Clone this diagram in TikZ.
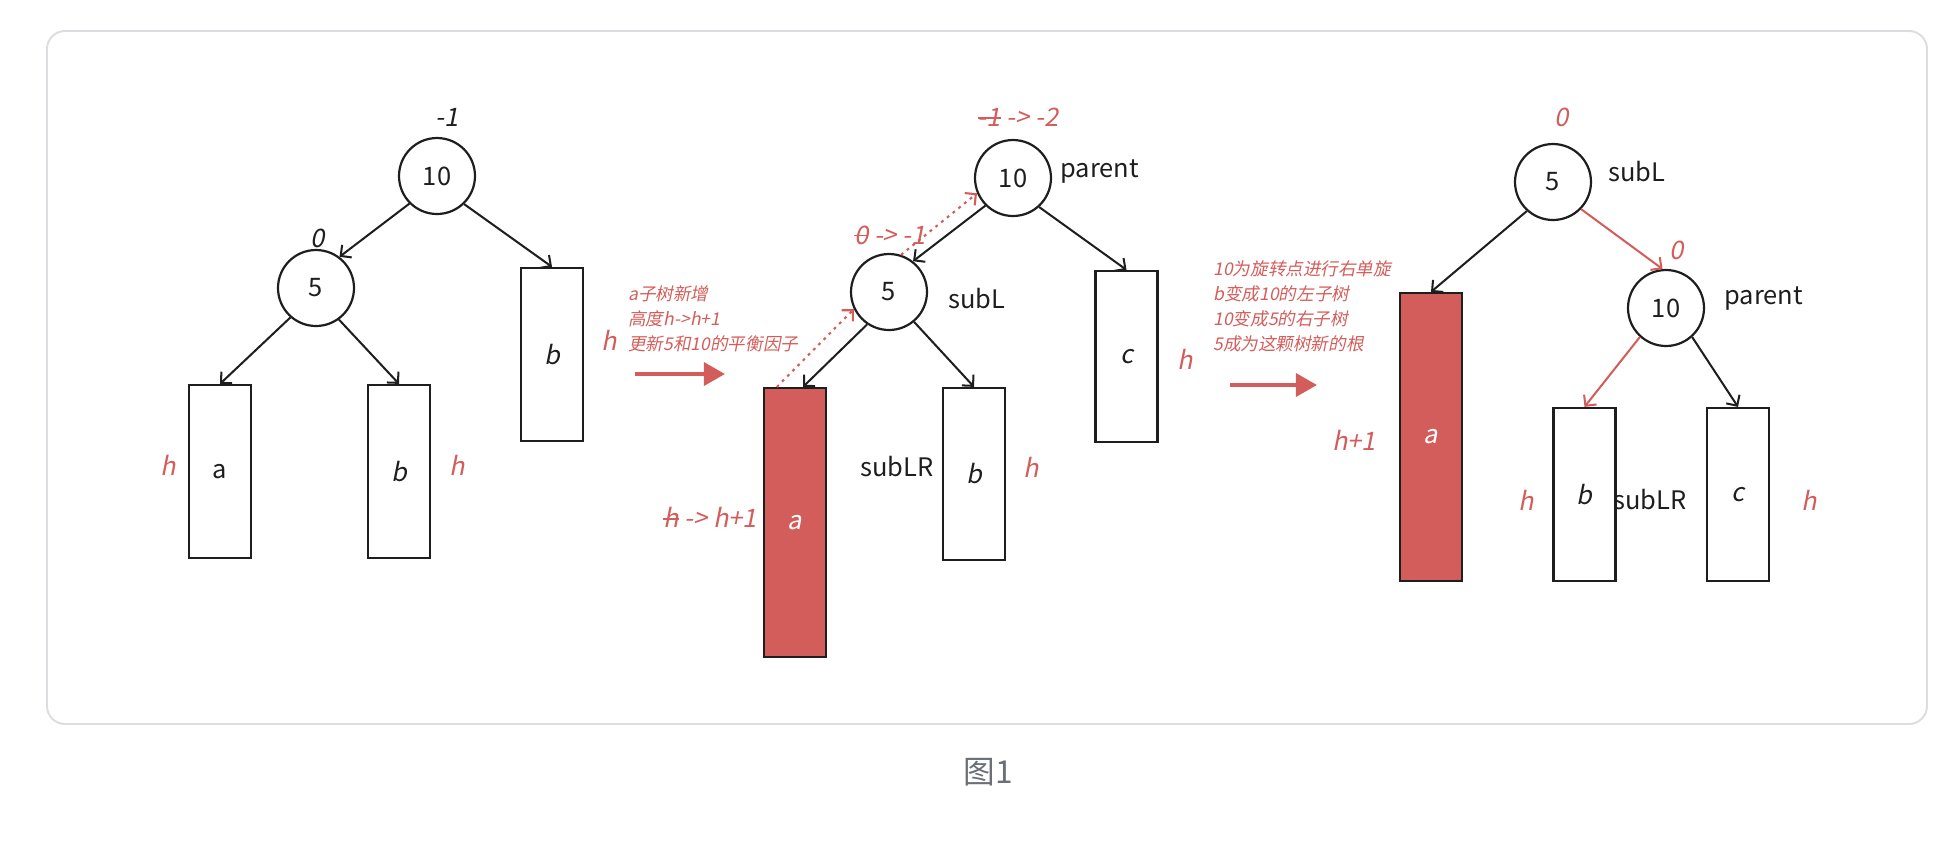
\documentclass[tikz,border=0pt]{standalone}
\usepackage{fontspec}
\setmainfont{Noto Sans CJK SC}
\newfontfamily\itf{Noto Sans CJK SC}[FakeSlant=0.2]
\newcommand\strk[1]{\sbox0{#1}\rlap{\raisebox{0.3em}{\rule{\wd0}{0.8pt}}}\usebox0}
\usetikzlibrary{arrows.meta,calc}
\definecolor{rd}{HTML}{D35D5A}
\definecolor{ink}{HTML}{1E1E1E}
\definecolor{framec}{HTML}{DCDCE1}
\definecolor{capc}{HTML}{6B6F78}
\begin{document}
\begin{tikzpicture}[x=0.02cm,y=-0.02cm,
  every node/.style={text=ink, font=\fontsize{14.5}{16}\selectfont},
  nd/.style={circle, draw=ink, line width=1.25pt, minimum size=1.52cm, inner sep=0pt},
  box/.style={rectangle, draw=ink, line width=1.3pt, minimum width=1.24cm, inner sep=0pt, font=\fontsize{14.5}{16}\selectfont\itf},
  redbox/.style={box, fill=rd, text=white},
  lbl/.style={font=\fontsize{14.5}{16}\selectfont\itf, inner sep=0pt},
  rlbl/.style={lbl, text=rd},
  tag/.style={inner sep=0pt, anchor=west},
  anno/.style={text=rd, font=\fontsize{10}{14.2}\selectfont\itf, align=left, inner sep=0pt, anchor=west},
  conn/.style={draw=ink, line width=1.15pt, -{Straight Barb[length=4.5pt,width=9pt]}},
  redge/.style={conn, draw=rd},
  dotedge/.style={redge, line width=1.2pt, dash pattern=on 1.6pt off 2.6pt},
  bigarrow/.style={draw=rd, line width=2.3pt, -{Triangle[length=12pt,width=13pt]}},
]
\useasboundingbox (0,0) rectangle (1948,850);
\draw[draw=framec, line width=1.1pt, rounded corners=0.36cm] (47,31) rectangle (1927,724);

% ---------- tree 1
\node[nd] (t1a) at (437,176) {10};
\node[nd] (t1b) at (316,288) {5};
\node[box, minimum height=3.46cm] (t1r) at (552,354.5) {b};
\node[box, minimum height=3.46cm, font=\fontsize{14.5}{16}\selectfont] (t1x) at (220,471.5) {a};
\node[box, minimum height=3.46cm] (t1y) at (399,471.5) {b};
\node[lbl] (t1f1) at (447,117) {-1};
\node[lbl] (t1f2) at (318,238) {0};
\node[rlbl] (t1h1) at (168,465) {h};
\node[rlbl] (t1h2) at (457,465) {h};
\node[rlbl] (t1h3) at (609,340) {h};
\draw[conn] (t1a.225) -- (t1b.53);
\draw[conn] (t1a.314) -- (t1r.north);
\draw[conn] (t1b.229) -- (t1x.north);
\draw[conn] (t1b.306) -- (t1y.north);

% ---------- step 1
\node[anno] (an1) at (628,319) {a子树新增\\高度h->h+1\\更新5和10的平衡因子};
\coordinate (ar1s) at (635,374);
\coordinate (ar1e) at (725,374);
\draw[bigarrow] (ar1s) -- (ar1e);

% ---------- tree 2
\node[nd] (t2a) at (1013,178) {10};
\node[nd] (t2b) at (889,292) {5};
\node[box, minimum height=3.42cm] (t2c) at (1126.5,356.5) {c};
\node[redbox, minimum height=5.38cm] (t2x) at (795,522.5) {a};
\node[box, minimum height=3.44cm] (t2y) at (974,474) {b};
\node[rlbl] (t2f1) at (1018,117) {\strk{-1} -> -2};
\node[rlbl] (t2f2) at (890,235) {\strk{0} -> -1};
\node[tag] (t2p) at (1060,172) {parent};
\node[tag] (t2s) at (948,299) {subL};
\node[inner sep=0pt] (t2lr) at (897,467) {subLR};
\node[rlbl] (t2hh) at (710,517) {\strk{h} -> h+1};
\node[rlbl] (t2h1) at (1031,467) {h};
\node[rlbl] (t2h2) at (1185,359) {h};
\draw[conn] (t2a.225) -- (t2b.52);
\draw[conn] (t2a.312) -- (t2c.north);
\draw[conn] (t2b.236) -- ($(t2x.north)+(8,0)$);
\draw[conn] (t2b.310) -- (t2y.north);
\draw[dotedge] ($(t2x.north west)+(14,0)$) -- (t2b.206);
\draw[dotedge] (t2b.72) -- (t2a.203);

% ---------- step 2
\node[anno] (an2) at (1213,306) {10为旋转点进行右单旋\\b变成10的左子树\\10变成5的右子树\\5成为这颗树新的根};
\coordinate (ar2s) at (1230,385);
\coordinate (ar2e) at (1317,385);
\draw[bigarrow] (ar2s) -- (ar2e);

% ---------- tree 3
\node[nd] (t3a) at (1553,182) {5};
\node[nd] (t3b) at (1666,308) {10};
\node[redbox, minimum height=5.76cm] (t3x) at (1431,437) {a};
\node[box, minimum height=3.46cm] (t3y) at (1584.5,494.5) {b};
\node[box, minimum height=3.46cm] (t3z) at (1738,494.5) {c};
\node[rlbl] (t3f1) at (1562,117) {0};
\node[tag] (t3s) at (1608,172) {subL};
\node[rlbl] (t3f2) at (1677,250) {0};
\node[tag] (t3p) at (1724,299) {parent};
\node[rlbl] (t3hh) at (1354,440) {h+1};
\node[rlbl] (t3h1) at (1526,500) {h};
\node[inner sep=0pt] (t3lr) at (1650,500) {subLR};
\node[rlbl] (t3h2) at (1809,500) {h};
\draw[conn] (t3a.228) -- (t3x.north);
\draw[redge] (t3a.316) -- (t3b.95);
\draw[redge] (t3b.228) -- (t3y.north);
\draw[conn] (t3b.312) -- (t3z.north);

% ---------- caption
\node[text=capc, font=\fontsize{18}{20}\selectfont] (cap) at (988,772) {图1};
\end{tikzpicture}
\end{document}
